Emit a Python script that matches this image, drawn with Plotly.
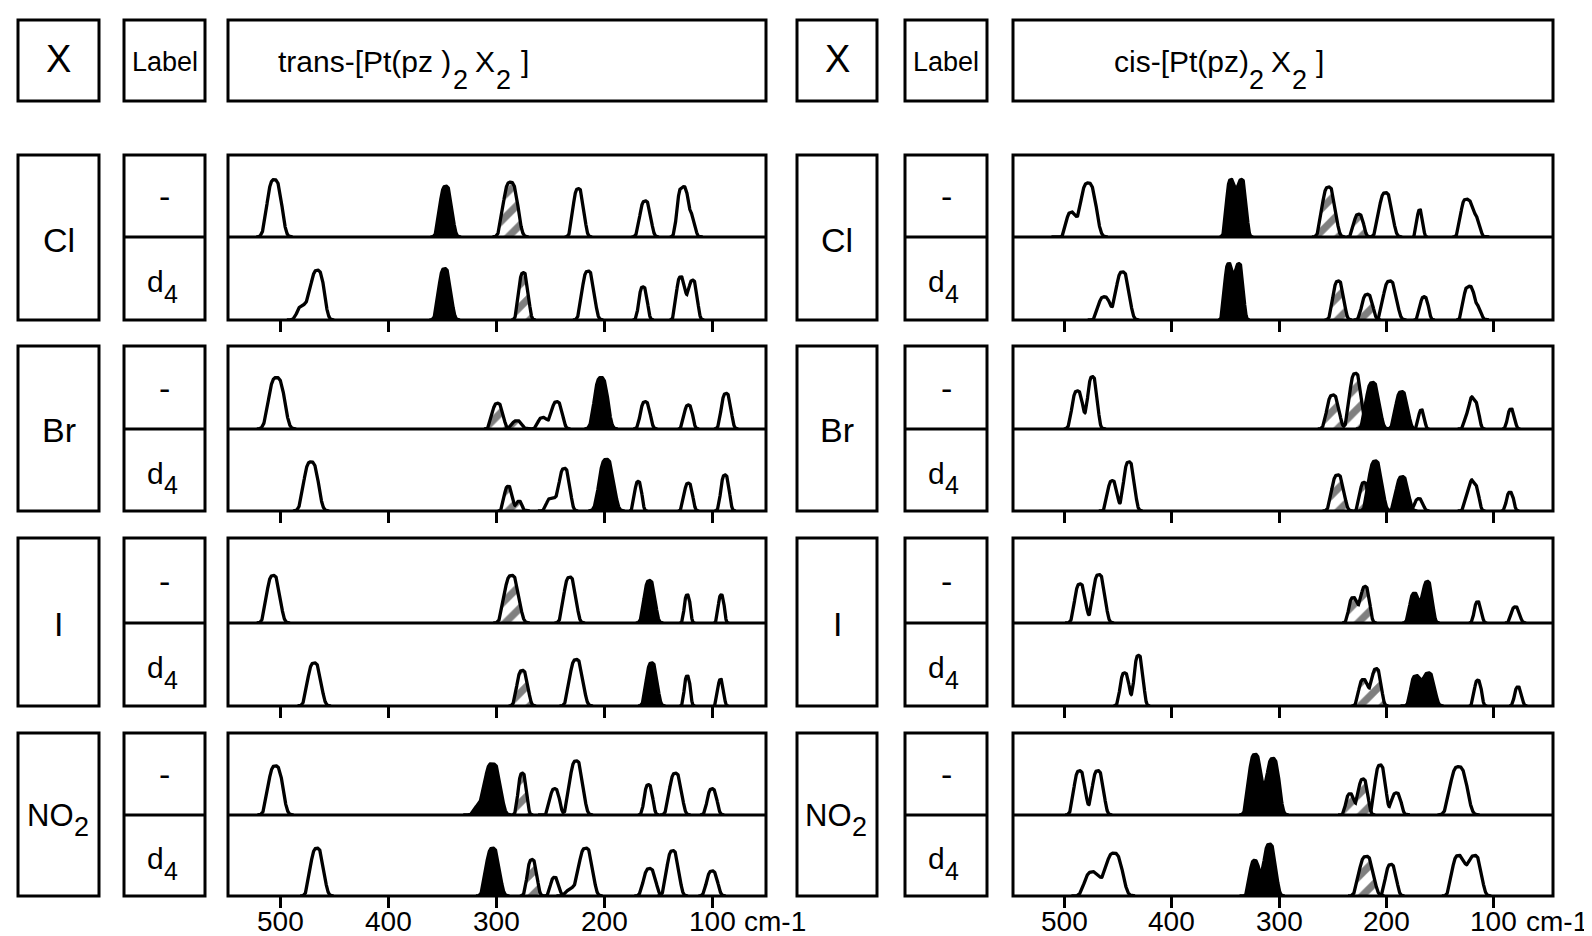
import numpy as np
import plotly.graph_objects as go

# ---------------- data ----------------
TICK_VALUES = [500, 400, 300, 200, 100]
TICK_LABELS = ["500", "400", "300", "200", "100"]
UNIT_LABEL = "cm-1"
HEADER_X = "X"
HEADER_LABEL = "Label"
# title pieces: (text, is_subscript)
TITLE_PARTS = [
    [("trans-[Pt(pz )", False), ("2", True), ("X", False), ("2", True), ("]", False)],
    [("cis-[Pt(pz)", False), ("2", True), ("X", False), ("2", True), ("]", False)],
]
X_NAMES = ["Cl", "Br", "I", "NO"]
X_SUBS = ["", "", "", "2"]
SAMPLE_NAMES = ["-", "d"]
SAMPLE_SUBS = ["", "4"]

# bands: (style, [(wavenumber cm-1, height as fraction of strip, half-width at the base cm-1), ...])
TRANS_CL_H = [("open", [(506, 0.70, 12)]), ("black", [(347, 0.62, 10)]), ("hatch", [(287, 0.67, 12)]),
              ("open", [(224, 0.59, 9)]), ("open", [(162, 0.44, 9)]), ("open", [(128, 0.60, 8), (120, 0.28, 7)])]
TRANS_CL_D = [("open", [(466, 0.60, 11), (479, 0.18, 10)]), ("black", [(348, 0.62, 10)]), ("hatch", [(275, 0.57, 8)]),
              ("open", [(215, 0.59, 10)]), ("open", [(164, 0.40, 7)]), ("open", [(129, 0.52, 7.5), (118, 0.48, 7.5)])]
TRANS_BR_H = [("open", [(504, 0.62, 13)]), ("hatch", [(299, 0.31, 9), (281, 0.10, 8)]),
              ("open", [(257, 0.14, 8), (244, 0.33, 9)]), ("black", [(203, 0.62, 11)]),
              ("open", [(162, 0.33, 8)]), ("open", [(122, 0.29, 7)]), ("open", [(87, 0.43, 8)])]
TRANS_BR_D = [("open", [(472, 0.60, 12)]), ("hatch", [(289, 0.30, 7), (279, 0.12, 5)]),
              ("open", [(249, 0.16, 8), (237, 0.52, 9)]), ("black", [(198, 0.63, 12)]),
              ("open", [(168.5, 0.36, 6)]), ("open", [(122, 0.34, 7)]), ("open", [(88, 0.44, 7)])]
TRANS_I_H = [("open", [(507, 0.56, 11)]), ("hatch", [(286, 0.56, 12)]), ("open", [(232, 0.54, 10)]),
             ("black", [(158, 0.50, 9)]), ("open", [(123, 0.33, 5)]), ("open", [(91.5, 0.33, 5)])]
TRANS_I_D = [("open", [(469, 0.52, 11)]), ("hatch", [(276, 0.43, 9)]), ("open", [(226, 0.56, 11)]),
             ("black", [(156, 0.52, 9)]), ("open", [(123, 0.36, 5)]), ("open", [(92, 0.32, 5)])]
TRANS_NO2_H = [("open", [(505, 0.60, 12)]), ("black", [(303, 0.62, 12), (314, 0.14, 10)]),
               ("hatch", [(276, 0.51, 7)]), ("open", [(246, 0.32, 8), (226, 0.66, 11)]),
               ("open", [(159, 0.37, 7)]), ("open", [(134, 0.51, 10)]), ("open", [(100, 0.32, 8)])]
TRANS_NO2_D = [("open", [(466.5, 0.59, 11)]), ("black", [(303.5, 0.59, 11)]), ("hatch", [(267, 0.45, 8)]),
               ("open", [(246, 0.23, 7)]), ("open", [(217, 0.59, 11), (229, 0.10, 10)]),
               ("open", [(158, 0.34, 10)]), ("open", [(136.5, 0.56, 10)]), ("open", [(100, 0.31, 9)])]

CIS_CL_H = [("open", [(494, 0.30, 8), (478, 0.66, 13)]), ("black", [(345, 0.70, 7.5), (335, 0.70, 7.5)]),
            ("hatch", [(254, 0.61, 11)]), ("hatch", [(226, 0.28, 8)]), ("open", [(201, 0.54, 11)]),
            ("open", [(169, 0.33, 5)]), ("open", [(126, 0.46, 9), (117, 0.24, 7)])]
CIS_CL_D = [("open", [(463, 0.28, 10), (446, 0.58, 11)]), ("black", [(347, 0.68, 7), (337.5, 0.68, 7)]),
            ("hatch", [(245, 0.47, 9)]), ("hatch", [(218, 0.31, 9)]), ("open", [(197, 0.47, 11)]),
            ("open", [(165, 0.28, 7)]), ("open", [(124, 0.40, 8), (116, 0.17, 7)])]
CIS_BR_H = [("open", [(488, 0.46, 9), (474, 0.63, 8)]), ("hatch", [(250, 0.41, 10), (229, 0.67, 10)]),
            ("black", [(213, 0.56, 11)]), ("black", [(186, 0.45, 10)]), ("open", [(167.5, 0.23, 5)]),
            ("open", [(124, 0.18, 6), (118, 0.33, 7)]), ("open", [(84, 0.24, 6)])]
CIS_BR_D = [("open", [(455.5, 0.37, 8), (440, 0.60, 9)]), ("open", [(170, 0.15, 7)]),
            ("hatch", [(245.5, 0.44, 10)]), ("hatch", [(221, 0.35, 7)]), ("black", [(210.5, 0.61, 11)]),
            ("black", [(185.5, 0.42, 10)]), ("open", [(124, 0.18, 6), (118, 0.32, 7)]), ("open", [(85, 0.23, 6)])]
CIS_I_H = [("open", [(485.5, 0.46, 9), (468, 0.57, 10)]), ("hatch", [(231, 0.30, 7.5), (220, 0.43, 7.5)]),
           ("black", [(174, 0.35, 8), (162, 0.49, 8)]), ("open", [(115, 0.25, 6)]), ("open", [(80, 0.19, 7)])]
CIS_I_D = [("open", [(444, 0.40, 7.5), (431, 0.61, 7.5)]), ("hatch", [(221.5, 0.32, 8), (209.6, 0.45, 8)]),
           ("black", [(173, 0.36, 8), (161, 0.40, 10)]), ("open", [(115, 0.31, 6)]), ("open", [(77.5, 0.23, 6)])]
CIS_NO2_H = [("open", [(486, 0.54, 9.5), (469, 0.54, 9.5)]), ("black", [(322.5, 0.74, 10.5), (306, 0.69, 10.5)]),
             ("hatch", [(234, 0.26, 7), (222, 0.44, 8)]), ("open", [(206, 0.61, 9), (191, 0.27, 8)]),
             ("open", [(133, 0.59, 14)])]
CIS_NO2_D = [("open", [(474, 0.30, 13), (454, 0.53, 14)]), ("black", [(323, 0.44, 8), (309, 0.64, 10)]),
             ("hatch", [(219, 0.49, 12)]), ("open", [(196, 0.39, 9)]),
             ("open", [(133, 0.50, 11), (118, 0.50, 11)])]

PANELS = [
    [[TRANS_CL_H, TRANS_CL_D], [TRANS_BR_H, TRANS_BR_D], [TRANS_I_H, TRANS_I_D], [TRANS_NO2_H, TRANS_NO2_D]],
    [[CIS_CL_H, CIS_CL_D], [CIS_BR_H, CIS_BR_D], [CIS_I_H, CIS_I_D], [CIS_NO2_H, CIS_NO2_D]],
]

# ---------------- layout geometry (pixels) ----------------
W, H = 1592, 936
FONT = "Liberation Sans"
LW = 3
COLS = [
    dict(xbox=(10, 91), lbox=(116, 197), sbox=(220, 758), rng=(549, 50), title_px=[268, 443, 465, 486, 511]),
    dict(xbox=(789, 869), lbox=(897, 979), sbox=(1005, 1545), rng=(548, 45), title_px=[1104, 1239, 1261, 1282, 1306]),
]
ROWS = [(147, 229, 312), (338, 421, 503), (530, 615, 698), (725, 807, 888)]
HEAD = (12, 93)
TITLE_Y, TITLE_SUB_Y = 53, 72
TICK_LABEL_Y = 913


def px(x):
    return x / W


def py(y):
    return 1 - y / H


def rect(x0, y0, x1, y1):
    return dict(type="rect", xref="paper", yref="paper", x0=px(x0), x1=px(x1), y0=py(y1), y1=py(y0),
                line=dict(color="black", width=LW), fillcolor="rgba(0,0,0,0)", layer="above")


def hline(x0, x1, y):
    return dict(type="line", xref="paper", yref="paper", x0=px(x0), x1=px(x1), y0=py(y), y1=py(y),
                line=dict(color="black", width=LW), layer="above")


def text(s, x, y, size, xanchor="center"):
    return dict(text=s, x=px(x), y=py(y), xref="paper", yref="paper", showarrow=False,
                xanchor=xanchor, yanchor="middle", font=dict(family=FONT, size=size, color="black"))


def label_with_sub(main, sub, cx, cy, size, sub_size, sub_drop, main_right_offset):
    if not sub:
        return [text(main, cx, cy, size)]
    return [text(main, cx + main_right_offset, cy, size, xanchor="right"),
            text(sub, cx + main_right_offset - 4, cy + sub_drop, sub_size, xanchor="left")]


def band_curve(components):
    # each band drawn as a steep-sided, round-topped peak that reaches the baseline at +-half-width
    cs = [c for c, _, _ in components]
    ws = [w for _, _, w in components]
    xs = np.linspace(min(cs) - 1.4 * max(ws), max(cs) + 1.4 * max(ws), 300)
    ys = np.zeros_like(xs)
    for c, h, w in components:
        ys += h * np.exp(-np.log(20) * np.abs((xs - c) / w) ** 3)
    return xs, ys


ORDER = {"open": 0, "hatch": 1, "black": 2}

fig = go.Figure()
layout_axes = {}
shapes = []
annotations = []

k = 0
for ci, col in enumerate(COLS):
    shapes.append(rect(col["xbox"][0], HEAD[0], col["xbox"][1], HEAD[1]))
    shapes.append(rect(col["lbox"][0], HEAD[0], col["lbox"][1], HEAD[1]))
    shapes.append(rect(col["sbox"][0], HEAD[0], col["sbox"][1], HEAD[1]))
    annotations.append(text(HEADER_X, sum(col["xbox"]) / 2, 51, 38))
    annotations.append(text(HEADER_LABEL, sum(col["lbox"]) / 2, 54, 27))
    for (part, is_sub), xp in zip(TITLE_PARTS[ci], col["title_px"]):
        annotations.append(text(part, xp, TITLE_SUB_Y if is_sub else TITLE_Y, 27 if is_sub else 30, xanchor="left"))
    xcx = sum(col["xbox"]) / 2
    lcx = sum(col["lbox"]) / 2
    for ri, row in enumerate(ROWS):
        top, mid, bot = row
        shapes.append(rect(col["xbox"][0], top, col["xbox"][1], bot))
        shapes.append(rect(col["lbox"][0], top, col["lbox"][1], bot))
        shapes.append(hline(col["lbox"][0], col["lbox"][1], mid))
        shapes.append(rect(col["sbox"][0], top, col["sbox"][1], bot))
        shapes.append(hline(col["sbox"][0], col["sbox"][1], mid))
        if X_SUBS[ri]:
            annotations += label_with_sub(X_NAMES[ri], X_SUBS[ri], xcx, (top + bot) / 2 + 1, 31, 27, 11, 17)
        else:
            annotations += label_with_sub(X_NAMES[ri], X_SUBS[ri], xcx, (top + bot) / 2 + 2, 34, 28, 11, 0)
        annotations += label_with_sub(SAMPLE_NAMES[0], SAMPLE_SUBS[0], lcx, (top + mid) / 2, 34, 28, 0, 0)
        annotations += label_with_sub(SAMPLE_NAMES[1], SAMPLE_SUBS[1], lcx, (mid + bot) / 2 + 3, 30, 25, 12, 1)
        for hi in range(2):
            k += 1
            y_top = row[hi]
            y_bot = row[hi + 1]
            xname = "xaxis" if k == 1 else f"xaxis{k}"
            yname = "yaxis" if k == 1 else f"yaxis{k}"
            xref = "x" if k == 1 else f"x{k}"
            yref = "y" if k == 1 else f"y{k}"
            bottom_half = hi == 1
            layout_axes[xname] = dict(
                domain=[px(col["sbox"][0]), px(col["sbox"][1])], range=list(col["rng"]), anchor=yref,
                showgrid=False, zeroline=False, showline=False, fixedrange=True,
                ticks="outside" if bottom_half else "", ticklen=11, tickwidth=2.8, tickcolor="black",
                tickvals=TICK_VALUES if bottom_half else [], showticklabels=False,
            )
            layout_axes[yname] = dict(domain=[py(y_bot), py(y_top)], range=[0, 1], anchor=xref,
                                      visible=False, fixedrange=True)
            bands = sorted(PANELS[ci][ri][hi], key=lambda b: ORDER[b[0]])
            for style, comps in bands:
                xs, ys = band_curve(comps)
                kw = dict(x=xs, y=ys, mode="lines", line=dict(color="black", width=3.3), fill="tozeroy",
                          xaxis=xref, yaxis=yref, hoverinfo="skip", showlegend=False)
                if style == "open":
                    kw["fillcolor"] = "white"
                elif style == "black":
                    kw["fillcolor"] = "black"
                else:
                    kw["fillcolor"] = "white"
                    kw["fillpattern"] = dict(shape="/", fgcolor="black", bgcolor="white", size=16, solidity=0.45)
                fig.add_trace(go.Scatter(**kw))
            if ri == len(ROWS) - 1 and bottom_half:
                for tv, tl in zip(TICK_VALUES, TICK_LABELS):
                    annotations.append(dict(text=tl, x=tv, xref=xref, y=py(TICK_LABEL_Y), yref="paper",
                                            xanchor="center", yanchor="middle", showarrow=False,
                                            font=dict(family=FONT, size=28, color="black")))
                annotations.append(dict(text=UNIT_LABEL, x=100, xref=xref, y=py(TICK_LABEL_Y), yref="paper",
                                        xanchor="left", yanchor="middle", xshift=30, showarrow=False,
                                        font=dict(family=FONT, size=28, color="black")))

fig.update_layout(
    width=W, height=H, margin=dict(l=0, r=0, t=0, b=0), paper_bgcolor="white", plot_bgcolor="rgba(0,0,0,0)",
    shapes=shapes, annotations=annotations, showlegend=False, **layout_axes,
)
fig.write_html("out.html")
